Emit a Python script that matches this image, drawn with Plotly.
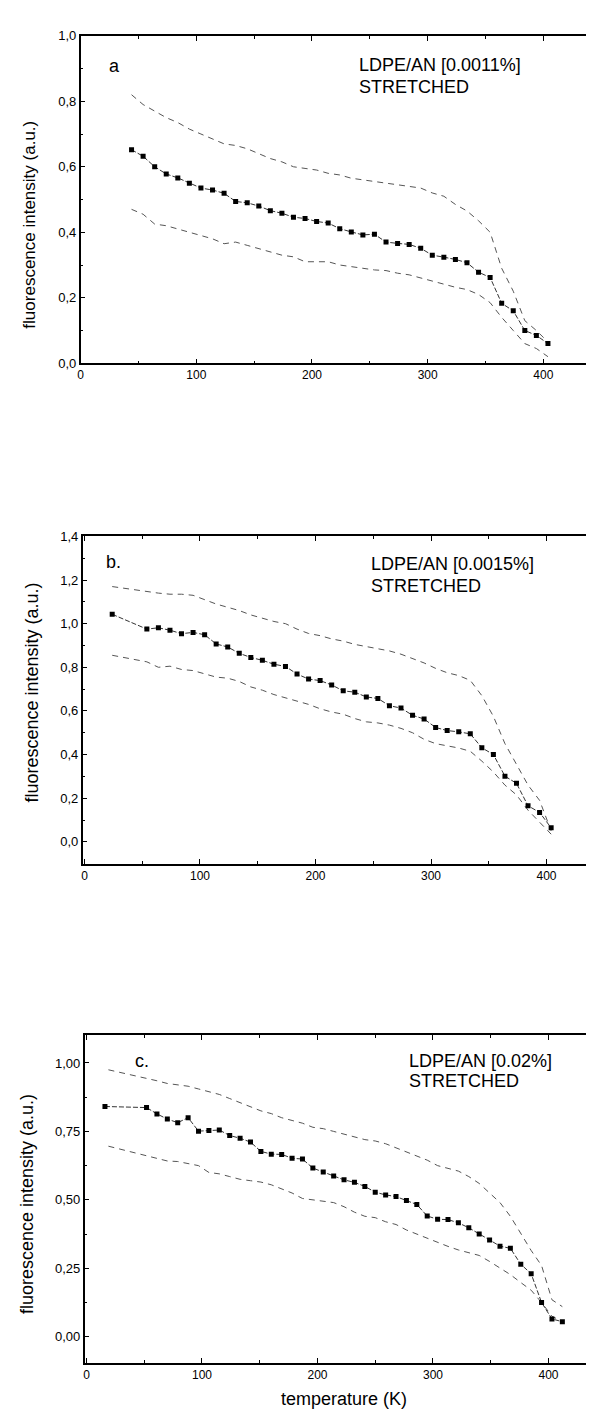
import plotly.graph_objects as go

# ---------------- data ----------------
# panel a  (LDPE/AN 0.0011 %)
xa = [44, 54, 64, 74, 84, 94, 104, 114, 124, 134, 144, 154, 164, 174, 184, 194, 204, 214, 224,
      234, 244, 254, 264, 274, 284, 294, 304, 314, 324, 334, 344, 354, 364, 374, 384, 394, 404]
ya_mid = [0.652, 0.632, 0.600, 0.578, 0.566, 0.550, 0.535, 0.529, 0.519, 0.494, 0.490, 0.480, 0.466,
          0.458, 0.446, 0.442, 0.433, 0.428, 0.411, 0.401, 0.392, 0.394, 0.370, 0.366, 0.363, 0.351,
          0.330, 0.324, 0.317, 0.307, 0.278, 0.262, 0.183, 0.160, 0.100, 0.085, 0.060]
ya_up = [0.82, 0.79, 0.77, 0.75, 0.735, 0.715, 0.70, 0.685, 0.67, 0.665, 0.655, 0.64, 0.625, 0.615,
         0.60, 0.595, 0.59, 0.58, 0.575, 0.565, 0.56, 0.555, 0.55, 0.545, 0.54, 0.535, 0.52, 0.51,
         0.485, 0.465, 0.435, 0.40, 0.29, 0.22, 0.13, 0.10, 0.065]
ya_lo = [0.47, 0.455, 0.425, 0.42, 0.41, 0.40, 0.39, 0.38, 0.365, 0.37, 0.36, 0.35, 0.34, 0.33,
         0.325, 0.31, 0.31, 0.31, 0.30, 0.295, 0.29, 0.285, 0.283, 0.275, 0.27, 0.26, 0.25, 0.24,
         0.232, 0.225, 0.21, 0.185, 0.14, 0.10, 0.06, 0.045, 0.02]

# panel b  (LDPE/AN 0.0015 %)
xb = [24, 54, 64, 74, 84, 94, 104, 114, 124, 134, 144, 154, 164, 174, 184, 194, 204, 214, 224,
      234, 244, 254, 264, 274, 284, 294, 304, 314, 324, 334, 344, 354, 364, 374, 384, 394, 404]
yb_mid = [1.043, 0.975, 0.981, 0.970, 0.954, 0.960, 0.949, 0.907, 0.893, 0.864, 0.845, 0.832, 0.814,
          0.804, 0.769, 0.746, 0.739, 0.719, 0.692, 0.686, 0.664, 0.657, 0.624, 0.613, 0.580, 0.563,
          0.524, 0.510, 0.504, 0.495, 0.431, 0.400, 0.301, 0.268, 0.165, 0.135, 0.064]
yb_up = [1.17, 1.145, 1.14, 1.135, 1.135, 1.13, 1.11, 1.09, 1.075, 1.06, 1.04, 1.025, 1.01, 1.00,
         0.975, 0.955, 0.945, 0.93, 0.92, 0.905, 0.895, 0.885, 0.875, 0.86, 0.84, 0.82, 0.795,
         0.775, 0.762, 0.74, 0.67, 0.575, 0.45, 0.355, 0.26, 0.19, 0.05]
yb_lo = [0.855, 0.825, 0.80, 0.805, 0.79, 0.785, 0.77, 0.755, 0.75, 0.735, 0.71, 0.695, 0.675, 0.66,
         0.645, 0.63, 0.61, 0.595, 0.585, 0.565, 0.55, 0.545, 0.535, 0.52, 0.50, 0.47, 0.45, 0.44,
         0.43, 0.415, 0.37, 0.32, 0.26, 0.215, 0.145, 0.09, 0.035]

# panel c  (LDPE/AN 0.02 %)
xc = [16, 52, 61, 70, 79, 88, 97, 106, 115, 124, 133, 142, 151, 160, 169, 178, 187, 196, 205, 214,
      223, 232, 241, 250, 259, 268, 277, 286, 295, 304, 313, 322, 331, 340, 349, 358, 367, 376, 385,
      394, 403, 412]
yc_mid = [0.841, 0.837, 0.814, 0.795, 0.782, 0.800, 0.751, 0.753, 0.755, 0.735, 0.725, 0.711, 0.677,
          0.667, 0.666, 0.652, 0.649, 0.616, 0.602, 0.587, 0.573, 0.564, 0.549, 0.528, 0.518, 0.512,
          0.498, 0.483, 0.441, 0.429, 0.428, 0.416, 0.398, 0.375, 0.353, 0.331, 0.323, 0.265, 0.230,
          0.125, 0.065, 0.055]
xc_env = [19, 52, 61, 70, 79, 88, 97, 106, 115, 124, 133, 142, 151, 160, 169, 178, 187, 196, 205, 214,
          223, 232, 241, 250, 259, 268, 277, 286, 295, 304, 313, 322, 331, 340, 349, 358, 367, 376, 385,
          394, 403, 412]
yc_up = [0.975, 0.945, 0.935, 0.925, 0.92, 0.915, 0.905, 0.895, 0.885, 0.87, 0.855, 0.84, 0.825, 0.815,
         0.80, 0.79, 0.78, 0.765, 0.76, 0.75, 0.74, 0.73, 0.72, 0.715, 0.705, 0.69, 0.675, 0.66, 0.645,
         0.625, 0.615, 0.605, 0.585, 0.56, 0.525, 0.49, 0.44, 0.375, 0.315, 0.26, 0.135, 0.11]
yc_lo = [0.696, 0.66, 0.65, 0.642, 0.64, 0.632, 0.625, 0.60, 0.595, 0.585, 0.575, 0.57, 0.565, 0.555,
         0.54, 0.525, 0.505, 0.50, 0.495, 0.49, 0.475, 0.455, 0.44, 0.435, 0.42, 0.41, 0.39, 0.375,
         0.36, 0.343, 0.33, 0.317, 0.308, 0.297, 0.275, 0.25, 0.227, 0.198, 0.17, 0.125, 0.075, 0.055]

labels = ["LDPE/AN [0.0011%]", "LDPE/AN [0.0015%]", "LDPE/AN [0.02%]"]
panel_letters = ["a", "b.", "c."]
x_ticks = [0, 100, 200, 300, 400]

# ---------------- layout helpers ----------------
W, H = 594, 1409
FONT = "Liberation Sans, Arial, sans-serif"


def px(x):
    return x / W


def py(y):
    return 1 - y / H


fig = go.Figure()

env_line = dict(color="#555555", width=1, dash="6px,5px")
mid_line = dict(color="#333333", width=1, dash="5px,2px")

panels = [
    (xa, ya_mid, xa, ya_up, ya_lo, ""),
    (xb, yb_mid, xb, yb_up, yb_lo, "2"),
    (xc, yc_mid, xc_env, yc_up, yc_lo, "3"),
]
for xm, ym, xe, yu, yl, s in panels:
    xr, yr = "x" + s, "y" + s
    fig.add_trace(go.Scatter(x=xe, y=yu, mode="lines", line=env_line, xaxis=xr, yaxis=yr,
                             showlegend=False))
    fig.add_trace(go.Scatter(x=xe, y=yl, mode="lines", line=env_line, xaxis=xr, yaxis=yr,
                             showlegend=False))
    fig.add_trace(go.Scatter(x=xm, y=ym, mode="lines+markers", line=mid_line,
                             marker=dict(symbol="square", size=5, color="black"),
                             xaxis=xr, yaxis=yr, showlegend=False))

axis_common = dict(showgrid=False, zeroline=False, showline=True, linecolor="black", linewidth=1.5,
                   mirror="ticks", ticks="inside", ticklen=5, tickwidth=1, tickcolor="black",
                   tickfont=dict(family=FONT, size=13, color="black"))

# frame pixel boxes: (left, right, top, bottom), x ranges, y ranges
boxes = [
    (70, 592, 21, 352, [0, 449], [0, 1.0], 0.2, 0.1, ".1f"),
    (72, 592, 527, 858, [-1.6, 446.3], [-0.101, 1.4], 0.2, 0.1, ".1f"),
    (74, 592, 1031, 1362, [-1.6, 444.6], [-0.094, 1.102], 0.25, 0.125, ".2f"),
]
layout_axes = {}
for i, (l, r, t, b, xrng, yrng, dy, mdy, fmt) in enumerate(boxes):
    s = "" if i == 0 else str(i + 1)
    layout_axes["xaxis" + s] = dict(axis_common, domain=[px(l), px(r)], range=xrng,
                                    anchor="y" + s, tickvals=x_ticks,
                                    tickfont=dict(family=FONT, size=12, color="black"),
                                    minor=dict(ticks="inside", ticklen=3, dtick=50, tick0=0,
                                               tickcolor="black"))
    layout_axes["yaxis" + s] = dict(axis_common, domain=[py(b), py(t)], range=yrng,
                                    anchor="x" + s, tick0=0, dtick=dy, tickformat=fmt,
                                    minor=dict(ticks="inside", ticklen=3, dtick=mdy, tick0=0,
                                               tickcolor="black"))

annotations = []
# panel letters
for (txt, x, y) in zip(panel_letters, [96, 93, 123], [52, 553, 1057]):
    annotations.append(dict(text=txt, x=px(x), y=py(y), xref="paper", yref="paper",
                            xanchor="left", yanchor="middle", showarrow=False,
                            font=dict(family=FONT, size=18, color="black")))
# sample labels
for (txt, x, y1, y2) in zip(labels, [348, 360, 398], [51, 555, 1057], [73, 577, 1077]):
    annotations.append(dict(text=txt, x=px(x), y=py(y1), xref="paper", yref="paper",
                            xanchor="left", yanchor="middle", showarrow=False,
                            font=dict(family=FONT, size=18, color="black")))
    annotations.append(dict(text="STRETCHED", x=px(x), y=py(y2), xref="paper", yref="paper",
                            xanchor="left", yanchor="middle", showarrow=False,
                            font=dict(family=FONT, size=18, color="black")))
# y axis titles
for (x, y, sz) in [(19, 212, 17), (21, 685, 18), (16, 1202, 18)]:
    annotations.append(dict(text="fluorescence intensity (a.u.)", x=px(x), y=py(y),
                            xref="paper", yref="paper", textangle=-90, showarrow=False,
                            xanchor="center", yanchor="middle",
                            font=dict(family=FONT, size=sz, color="black")))
# x axis title
annotations.append(dict(text="temperature (K)", x=px(335), y=py(1399), xref="paper", yref="paper",
                        showarrow=False, xanchor="center", yanchor="middle",
                        font=dict(family=FONT, size=18, color="black")))

fig.update_layout(width=W, height=H, margin=dict(l=0, r=0, t=0, b=0), autosize=False,
                  paper_bgcolor="white", plot_bgcolor="white", separators=",.",
                  annotations=annotations, font=dict(family=FONT, color="black"),
                  **layout_axes)

fig.write_html("out.html")
